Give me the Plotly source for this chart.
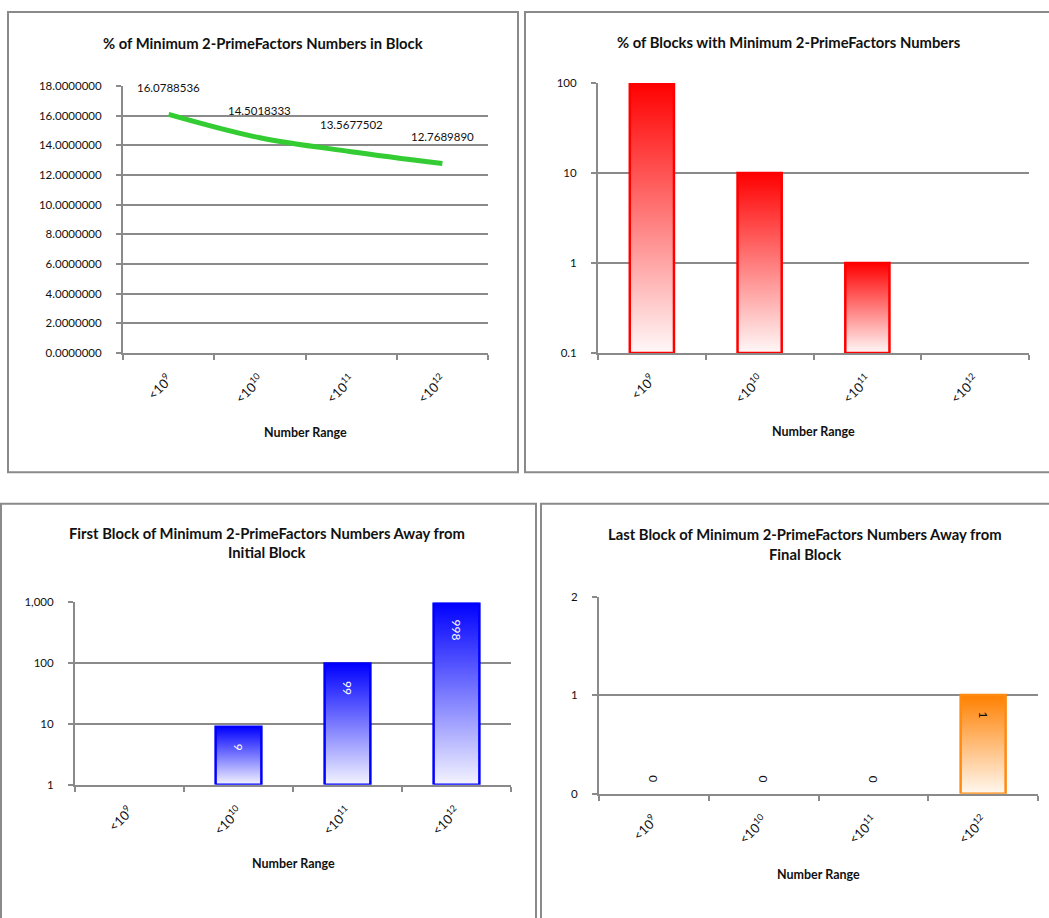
import math
import plotly.graph_objects as go

# ---------------- data ----------------
categories = ["&lt;10<sup>9</sup>", "&lt;10<sup>10</sup>", "&lt;10<sup>11</sup>", "&lt;10<sup>12</sup>"]
pct_in_block = [16.0788536, 14.5018333, 13.5677502, 12.7689890]
pct_blocks_with = [100, 10, 1, 0]
first_block_away = [0, 9, 99, 998]
last_block_away = [0, 0, 0, 1]

pct_in_block_ticks = [0, 2, 4, 6, 8, 10, 12, 14, 16, 18]
pct_blocks_ticks = [0.1, 1, 10, 100]
pct_blocks_ticktext = ["0.1", "1", "10", "100"]
first_ticks = [1, 10, 100, 1000]
first_ticktext = ["1", "10", "100", "1,000"]
last_ticks = [0, 1, 2]

titles = [
    ["% of Minimum 2-PrimeFactors Numbers in Block"],
    ["% of Blocks with Minimum 2-PrimeFactors Numbers"],
    ["First Block of Minimum 2-PrimeFactors Numbers Away from", "Initial Block"],
    ["Last Block of Minimum 2-PrimeFactors Numbers Away from", "Final Block"],
]
xlabel = "Number Range"

# ---------------- layout helpers ----------------
W, H = 1049, 918
FONT = "Lato"
GRID = "#8A8A8A"
TXT = "#111111"


def xd(a, b):
    return [a / W, b / W]


def yd(top, bottom):
    return [1 - bottom / H, 1 - top / H]


def px(x):
    return x / W


def py(y):
    return 1 - y / H


n = len(categories)
xs = list(range(n))
bounds = [i - 0.5 for i in range(n + 1)]

fig = go.Figure()

# ---- panel 1: line ----
fig.add_trace(go.Scatter(
    x=xs, y=pct_in_block, mode="lines", line=dict(color="#33CC33", width=5, shape="spline"),
    xaxis="x", yaxis="y", hoverinfo="skip"))


def bar_poly(i, v, base, hw):
    return [i - hw, i + hw, i + hw, i - hw, i - hw], [base, base, v, v, base]


def add_gradient_bars(values, base, hw, dark, light, xa, ya, outline):
    for i, v in enumerate(values):
        if v <= base:
            continue
        bx, by = bar_poly(i, v, base, hw)
        fig.add_trace(go.Scatter(
            x=bx, y=by, mode="lines", fill="toself",
            fillgradient=dict(type="vertical", colorscale=[[0, light], [1, dark]]),
            line=dict(color=outline, width=2.5),
            xaxis=xa, yaxis=ya, hoverinfo="skip"))


add_gradient_bars(pct_blocks_with, 0.1, 0.205, "#FF0000", "#FFF8F8", "x2", "y2", "#FF0000")
add_gradient_bars(first_block_away, 1, 0.21, "#0000FF", "#F4F4FF", "x3", "y3", "#0000FF")
add_gradient_bars(last_block_away, 0, 0.205, "#FF8000", "#FFF8F0", "x4", "y4", "#FF8A10")

annotations = []

# data labels panel 1
for i, v in enumerate(pct_in_block):
    annotations.append(dict(x=i, y=v, xref="x", yref="y", text=f"{v:.7f}", showarrow=False,
                            yshift=27, font=dict(family=FONT, size=11.5, color=TXT)))

# data labels panel 3 (log axis: annotation positions are given in log10 units)
for i, v in enumerate(first_block_away):
    if v > 1:
        annotations.append(dict(x=i, y=math.log10(v), xref="x3", yref="y3", text=str(v), showarrow=False,
                                textangle=90, yanchor="top", yshift=-15,
                                font=dict(family=FONT, size=12, color="white")))

# data labels panel 4
for i, v in enumerate(last_block_away):
    if v > 0:
        annotations.append(dict(x=i, y=v, xref="x4", yref="y4", text=str(v), showarrow=False,
                                textangle=90, yanchor="top", yshift=-14,
                                font=dict(family=FONT, size=12, color=TXT)))
    else:
        annotations.append(dict(x=i, y=v, xref="x4", yref="y4", text=str(v), showarrow=False,
                                textangle=90, yanchor="bottom", yshift=9,
                                font=dict(family=FONT, size=12, color=TXT)))

# titles
title_pos = [
    (263, [37]),
    (789, [35]),
    (267, [534, 553]),
    (805, [535, 555]),
]
for lines, (cx, ys) in zip(titles, title_pos):
    for line, yy in zip(lines, ys):
        annotations.append(dict(x=px(cx), y=py(yy), xref="paper", yref="paper", text=f"<b>{line}</b>",
                                showarrow=False, xanchor="center", yanchor="middle",
                                font=dict(family=FONT, size=14.8, color=TXT)))

# x-axis titles
for cx, yy in [(305.5, 432), (813.5, 431), (293, 869), (818.5, 880)]:
    annotations.append(dict(x=px(cx), y=py(yy), xref="paper", yref="paper", text=f"<b>{xlabel}</b>",
                            showarrow=False, xanchor="center", yanchor="middle",
                            font=dict(family=FONT, size=12.5, color=TXT)))

# panel borders
shapes = []
for x0, y0, x1, y1 in [(8, 5, 518, 472), (525, 5, 1052, 472), (1, 504, 536, 925), (541, 504, 1052, 925)]:
    shapes.append(dict(type="rect", xref="paper", yref="paper", x0=px(x0), x1=px(x1), y0=py(y1), y1=py(y0),
                       line=dict(color="#8A8A8A", width=2), fillcolor="rgba(0,0,0,0)", layer="below"))


def xaxis(domain, anchor):
    return dict(domain=domain, anchor=anchor, range=[-0.5, n - 0.5], tickmode="array", tickvals=xs,
                ticktext=categories, tickangle=-45, ticks="", showgrid=False, zeroline=False,
                showline=True, linecolor=GRID, linewidth=2, ticklabelstandoff=12,
                tickfont=dict(family=FONT, size=13, color=TXT),
                minor=dict(tickmode="array", tickvals=bounds, ticks="outside", ticklen=5,
                           tickcolor=GRID, tickwidth=2, showgrid=False),
                fixedrange=True)


def yaxis(domain, anchor, **kw):
    d = dict(domain=domain, anchor=anchor, showgrid=True, gridcolor=GRID, gridwidth=2,
             showline=True, linecolor=GRID, linewidth=2, ticks="outside", ticklen=5,
             tickcolor=GRID, tickwidth=2, zeroline=False, ticklabelstandoff=12,
             tickfont=dict(family=FONT, size=11.5, color=TXT), fixedrange=True)
    d.update(kw)
    return d


fig.update_layout(
    width=W, height=H, autosize=False,
    margin=dict(l=0, r=0, t=0, b=0),
    paper_bgcolor="white", plot_bgcolor="white",
    showlegend=False,
    font=dict(family=FONT, size=11, color=TXT),
    xaxis=xaxis(xd(123, 488), "y"),
    yaxis=yaxis(yd(80, 351), "x", range=[0, 18], tickmode="array", tickvals=pct_in_block_ticks,
                tickformat=".7f"),
    xaxis2=xaxis(xd(598, 1029), "y2"),
    yaxis2=yaxis(yd(77, 351), "x2", type="log", range=[-1, 2], tickmode="array",
                 tickvals=pct_blocks_ticks, ticktext=pct_blocks_ticktext),
    xaxis3=xaxis(xd(75, 511), "y3"),
    yaxis3=yaxis(yd(604, 789), "x3", type="log", range=[0, 3], tickmode="array",
                 tickvals=first_ticks, ticktext=first_ticktext),
    xaxis4=xaxis(xd(599, 1038), "y4"),
    yaxis4=yaxis(yd(598, 798), "x4", range=[0, 2], tickmode="array", tickvals=last_ticks),
    annotations=annotations,
    shapes=shapes,
)

fig.write_html("out.html", config={"displayModeBar": False},
               post_script="document.body.style.margin='0px';document.body.style.overflow='hidden';")
